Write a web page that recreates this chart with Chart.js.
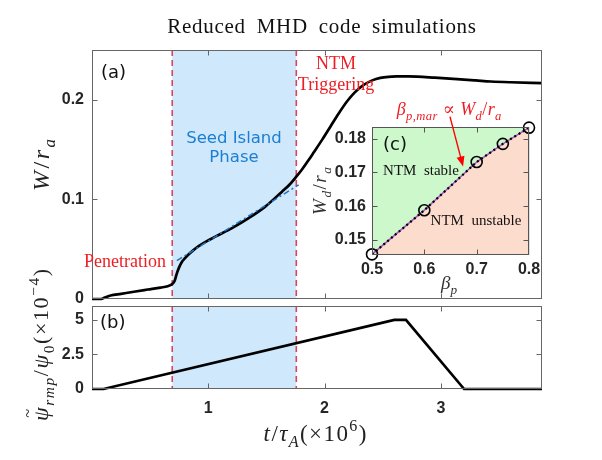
<!DOCTYPE html>
<html><head><meta charset="utf-8">
<script src="https://cdn.jsdelivr.net/npm/chart.js@4.4.1/dist/chart.umd.min.js"></script>
<style>
html,body{margin:0;padding:0;background:#fff;}
#wrap{position:relative;width:602px;height:460px;overflow:hidden;}
#wrap canvas{position:absolute;left:0;top:0;}
</style></head><body>
<div id="wrap">
<canvas id="cA" width="602" height="460"></canvas>
<canvas id="cB" width="602" height="460"></canvas>
<canvas id="cC" width="602" height="460"></canvas>
</div>
<script>
// ---------- data ----------
const timeW  = [0, 0.08, 0.11, 0.16, 0.25, 0.36, 0.48, 0.59, 0.65, 0.69, 0.71, 0.73, 0.75, 0.774, 0.80, 0.83, 0.87, 0.917, 0.98, 1.06, 1.204, 1.347, 1.49, 1.634, 1.70, 1.757, 1.806, 1.86, 1.906, 1.98, 2.05, 2.12, 2.194, 2.26, 2.337, 2.41, 2.48, 2.55, 2.624, 2.72, 2.8, 2.95, 3.14, 3.3, 3.43, 3.6, 3.87];
const islandW = [0, 0, 0.0015, 0.0035, 0.0052, 0.0073, 0.0095, 0.0115, 0.0128, 0.0150, 0.018, 0.0258, 0.032, 0.0375, 0.0410, 0.0447, 0.0488, 0.0530, 0.0576, 0.0626, 0.0712, 0.0812, 0.0928, 0.1078, 0.1150, 0.1228, 0.1300, 0.1390, 0.1470, 0.1600, 0.1730, 0.1860, 0.1985, 0.2075, 0.2150, 0.2195, 0.2220, 0.2231, 0.2235, 0.2236, 0.2233, 0.2222, 0.2208, 0.2195, 0.2184, 0.2176, 0.2168];
const fitTime = [0.73, 1.777];
const fitW    = [0.0385, 0.1146];
const timeRmp = [0, 0.1, 2.6, 2.7, 3.2, 3.87];
const psiRmp  = [0, 0, 5, 5, 0, 0];
const seedPhase = [0.69, 1.757];
const betaP  = [0.5, 0.6, 0.7, 0.75, 0.8];
const wdCrit = [0.1457, 0.1588, 0.1731, 0.1785, 0.1833];
const tTicks = [1, 2, 3];           const tTickLabels = ['1', '2', '3'];
const wTicks = [0, 0.1, 0.2];       const wTickLabels = ['0', '0.1', '0.2'];
const psiTicks = [0, 2.5, 5];       const psiTickLabels = ['0', '2.5', '5'];
const betaTicks = [0.5, 0.6, 0.7, 0.8]; const betaTickLabels = ['0.5', '0.6', '0.7', '0.8'];
const wdTicks = [0.15, 0.16, 0.17, 0.18]; const wdTickLabels = ['0.15', '0.16', '0.17', '0.18'];

// ---------- helpers ----------
const pts = (xs, ys) => xs.map((x, i) => ({x: x, y: ys[i]}));
const SERIF = '"Liberation Serif", "DejaVu Serif", serif';
const SANS = '"DejaVu Sans", "Liberation Sans", sans-serif';
const tickFont = {family: '"Liberation Sans", Arial, sans-serif', weight: 'bold', size: 16};
const TICKCOL = '#262626';
const RED = '#ee1d23';

// parts: {t, it, sub, sup, acc}; sp = extra spacing between characters
function drawMath(ctx, parts, x, y, size, color, align, rot, sp) {
  sp = sp || 0;
  ctx.save();
  ctx.translate(x, y);
  if (rot) ctx.rotate(rot);
  const fontFor = p => (p.it ? 'italic ' : '') + ((p.sub || p.sup) ? size * 0.7 : size).toFixed(1) + 'px ' + SERIF;
  const glyphs = [];
  let total = 0;
  parts.forEach(p => {
    ctx.font = fontFor(p);
    Array.from(p.t).forEach((ch, k) => {
      const w = ctx.measureText(ch).width;
      glyphs.push({ch: ch, p: p, w: w, first: k === 0});
      total += w + sp;
    });
  });
  total -= sp;
  let cx = align === 'center' ? -total / 2 : (align === 'right' ? -total : 0);
  ctx.fillStyle = color; ctx.textBaseline = 'alphabetic'; ctx.textAlign = 'left';
  glyphs.forEach(g => {
    const p = g.p;
    ctx.font = fontFor(p);
    const dy = p.sub ? size * 0.25 : (p.sup ? -size * 0.42 : 0);
    ctx.fillText(g.ch, cx, dy);
    if (p.acc && g.first) {
      ctx.save();
      ctx.font = (size * 0.75).toFixed(1) + 'px ' + SERIF;
      ctx.textAlign = 'center';
      ctx.fillText(p.acc, cx + g.w / 2 + 1, -size * 0.68);
      ctx.restore();
    }
    cx += g.w + sp;
  });
  ctx.restore();
}
function text(ctx, s, x, y, font, color, align) {
  ctx.save(); ctx.font = font; ctx.fillStyle = color; ctx.textAlign = align || 'left'; ctx.textBaseline = 'middle';
  ctx.fillText(s, x, y); ctx.restore();
}
function makeFrame(xt, yt, color) {
  return {
    id: 'frame',
    afterDraw(chart) {
      const {ctx, chartArea: a, scales} = chart;
      ctx.save();
      ctx.strokeStyle = color; ctx.lineWidth = 1;
      const L = Math.round(a.left) + 0.5, R = Math.round(a.right) - 0.5, T = Math.round(a.top) + 0.5, B = Math.round(a.bottom) - 0.5;
      ctx.strokeRect(L, T, R - L, B - T);
      ctx.beginPath();
      xt.forEach(v => { const px = Math.round(scales.x.getPixelForValue(v)) + 0.5; if (px <= L + 1 || px >= R - 1) return; ctx.moveTo(px, T); ctx.lineTo(px, T + 5); ctx.moveTo(px, B); ctx.lineTo(px, B - 5); });
      yt.forEach(v => { const py = Math.round(scales.y.getPixelForValue(v)) + 0.5; if (py <= T + 1 || py >= B - 1) return; ctx.moveTo(L, py); ctx.lineTo(L + 5, py); ctx.moveTo(R, py); ctx.lineTo(R - 5, py); });
      ctx.stroke();
      ctx.restore();
    }
  };
}
const seedShade = {
  id: 'seedShade',
  beforeDatasetsDraw(chart) {
    const {ctx, chartArea: a, scales} = chart;
    const x0 = scales.x.getPixelForValue(seedPhase[0]), x1 = scales.x.getPixelForValue(seedPhase[1]);
    ctx.save();
    ctx.fillStyle = '#cfe8fb';
    ctx.fillRect(x0, a.top, x1 - x0, a.bottom - a.top);
    ctx.strokeStyle = '#d8455c'; ctx.lineWidth = 1.6; ctx.setLineDash([6, 4]);
    [x0, x1].forEach(x => { ctx.beginPath(); ctx.moveTo(x, a.top); ctx.lineTo(x, a.bottom); ctx.stroke(); });
    ctx.restore();
  }
};
const tickSetter = vals => (s => { s.ticks = vals.map(v => ({value: v})); });
const labelFrom = (vals, labels) => (v => { const i = vals.findIndex(t => Math.abs(t - v) < 1e-9); return i >= 0 ? labels[i] : ''; });
const common = {
  responsive: false, animation: false, events: [],
  plugins: {legend: {display: false}, tooltip: {enabled: false}}
};

// ---------- panel (a) ----------
const annotA = {
  id: 'annotA',
  afterDraw(chart) {
    const ctx = chart.ctx;
    ctx.save();
    ctx.font = '21px ' + SERIF; ctx.fillStyle = '#111'; ctx.textAlign = 'center'; ctx.textBaseline = 'alphabetic';
    try { ctx.letterSpacing = '0.7px'; ctx.wordSpacing = '5px'; } catch (e) {}
    ctx.fillText('Reduced MHD code simulations', 322, 33);
    ctx.restore();
    text(ctx, '(a)', 101, 73, '18px ' + SANS, '#111', 'left');
    text(ctx, 'Seed Island', 234, 139, '16.5px ' + SANS, '#1a7fd2', 'center');
    text(ctx, 'Phase', 234, 158, '16.5px ' + SANS, '#1a7fd2', 'center');
    text(ctx, 'NTM', 336, 64, '18px ' + SERIF, RED, 'center');
    text(ctx, 'Triggering', 336, 85, '18px ' + SERIF, RED, 'center');
    text(ctx, 'Penetration', 166, 262, '18px ' + SERIF, RED, 'right');
    drawMath(ctx, [{t: 'W', it: 1}, {t: '/'}, {t: 'r', it: 1}, {t: 'a', it: 1, sub: 1}], 49, 165, 24, '#222', 'center', -Math.PI / 2, 2.5);
  }
};
new Chart(document.getElementById('cA'), {
  type: 'line',
  data: {datasets: [
    {data: pts(timeW, islandW), borderColor: '#000', borderWidth: 2.7, pointRadius: 0, cubicInterpolationMode: 'monotone', clip: 4, order: 2},
    {data: pts(fitTime, fitW), borderColor: '#1c74c9', borderWidth: 1.5, borderDash: [6, 3, 2, 3], pointRadius: 0, order: 1}
  ]},
  options: Object.assign({}, common, {
    layout: {padding: {left: 52, top: 50, right: 60, bottom: 161}},
    scales: {
      x: {type: 'linear', min: 0, max: 3.87, display: false, afterBuildTicks: tickSetter(tTicks)},
      y: {type: 'linear', min: 0, max: 0.25, grid: {display: false, drawTicks: false}, border: {display: false},
          afterBuildTicks: tickSetter(wTicks), afterFit: s => { s.width = 40; },
          ticks: {font: tickFont, color: TICKCOL, padding: 8, callback: labelFrom(wTicks, wTickLabels)}}
    }
  }),
  plugins: [seedShade, makeFrame(tTicks, wTicks, '#666'), annotA]
});

// ---------- panel (b) ----------
const annotB = {
  id: 'annotB',
  afterDraw(chart) {
    const ctx = chart.ctx;
    text(ctx, '(b)', 100, 323, '18px ' + SANS, '#111', 'left');
    drawMath(ctx, [{t: 'ψ', it: 1, acc: '~'}, {t: 'rmp', it: 1, sub: 1}, {t: '/'}, {t: 'ψ', it: 1}, {t: '0', sub: 1}, {t: '(×10'}, {t: '−4', sup: 1}, {t: ')'}], 48, 345, 22, '#222', 'center', -Math.PI / 2, 1.6);
    drawMath(ctx, [{t: 't', it: 1}, {t: '/'}, {t: 'τ', it: 1}, {t: 'A', it: 1, sub: 1}, {t: '(×10'}, {t: '6', sup: 1}, {t: ')'}], 315, 441, 23, '#222', 'center', 0, 1.4);
  }
};
new Chart(document.getElementById('cB'), {
  type: 'line',
  data: {datasets: [
    {data: pts(timeRmp, psiRmp), borderColor: '#000', borderWidth: 2.7, pointRadius: 0, tension: 0, clip: 4}
  ]},
  options: Object.assign({}, common, {
    layout: {padding: {left: 52, top: 306, right: 60, bottom: 41}},
    scales: {
      x: {type: 'linear', min: 0, max: 3.87, grid: {display: false, drawTicks: false}, border: {display: false},
          afterBuildTicks: tickSetter(tTicks), afterFit: s => { s.height = 30; },
          ticks: {font: tickFont, color: TICKCOL, padding: 10, autoSkip: false, maxRotation: 0, callback: labelFrom(tTicks, tTickLabels)}},
      y: {type: 'linear', min: 0, max: 6, grid: {display: false, drawTicks: false}, border: {display: false},
          afterBuildTicks: tickSetter(psiTicks), afterFit: s => { s.width = 40; },
          ticks: {font: tickFont, color: TICKCOL, padding: 8, callback: labelFrom(psiTicks, psiTickLabels)}}
    }
  }),
  plugins: [seedShade, makeFrame(tTicks, psiTicks, '#666'), annotB]
});

// ---------- inset (c) ----------
const annotC = {
  id: 'annotC',
  afterDraw(chart) {
    const ctx = chart.ctx, sx = chart.scales.x, sy = chart.scales.y;
    text(ctx, '(c)', 383, 145, '18px ' + SANS, '#111', 'left');
    text(ctx, 'NTM  stable', 421, 171, '15px ' + SERIF, '#111', 'center');
    text(ctx, 'NTM  unstable', 476, 221, '15px ' + SERIF, '#111', 'center');
    drawMath(ctx, [{t: 'W', it: 1}, {t: 'd', it: 1, sub: 1}, {t: '/'}, {t: 'r', it: 1}, {t: 'a', it: 1, sub: 1}], 326, 191, 19, '#333', 'center', -Math.PI / 2, 1.5);
    drawMath(ctx, [{t: 'β', it: 1}, {t: 'p', it: 1, sub: 1}], 449, 289, 19, '#333', 'center', 0);
    drawMath(ctx, [{t: 'β', it: 1}, {t: 'p,mar', it: 1, sub: 1}, {t: ' ∝ '}, {t: 'W', it: 1}, {t: 'd', it: 1, sub: 1}, {t: '/'}, {t: 'r', it: 1}, {t: 'a', it: 1, sub: 1}], 449, 115, 18, RED, 'center', 0, 0.4);
    const x0 = sx.getPixelForValue(0.649), y0 = sy.getPixelForValue(0.1866);
    const x1 = sx.getPixelForValue(0.674), y1 = sy.getPixelForValue(0.1718);
    const ang = Math.atan2(y1 - y0, x1 - x0);
    ctx.save();
    ctx.strokeStyle = '#f00'; ctx.fillStyle = '#f00'; ctx.lineWidth = 1.4;
    ctx.beginPath(); ctx.moveTo(x0, y0); ctx.lineTo(x1 - 8 * Math.cos(ang), y1 - 8 * Math.sin(ang)); ctx.stroke();
    ctx.beginPath(); ctx.moveTo(x1, y1);
    ctx.lineTo(x1 - 10 * Math.cos(ang) + 4 * Math.sin(ang), y1 - 10 * Math.sin(ang) - 4 * Math.cos(ang));
    ctx.lineTo(x1 - 10 * Math.cos(ang) - 4 * Math.sin(ang), y1 - 10 * Math.sin(ang) + 4 * Math.cos(ang));
    ctx.closePath(); ctx.fill();
    ctx.restore();
  }
};
new Chart(document.getElementById('cC'), {
  type: 'line',
  data: {datasets: [
    {data: pts(betaP, wdCrit), borderWidth: 0, pointRadius: 0, fill: 'end', backgroundColor: '#ccf8cc', order: 5},
    {data: pts(betaP, wdCrit), borderWidth: 0, pointRadius: 0, fill: 'start', backgroundColor: '#fcdccd', order: 4},
    {data: pts(betaP, wdCrit), borderColor: '#a855c8', borderWidth: 1.6, pointRadius: 0, fill: false, order: 3},
    {data: pts(betaP, wdCrit), borderColor: '#000', borderWidth: 2.2, borderDash: [2, 3], pointRadius: 0, fill: false, order: 2},
    {data: pts(betaP, wdCrit), showLine: false, pointRadius: 5.5, pointBorderWidth: 1.6, pointBorderColor: '#000', pointBackgroundColor: 'rgba(0,0,0,0)', clip: false, fill: false, order: 1}
  ]},
  options: Object.assign({}, common, {
    layout: {padding: {left: 327, top: 127, right: 73, bottom: 180}},
    scales: {
      x: {type: 'linear', min: 0.5, max: 0.8, z: 1, grid: {color: 'rgba(0,0,0,0.12)', drawTicks: false}, border: {display: false},
          afterBuildTicks: tickSetter(betaTicks), afterFit: s => { s.height = 25; },
          ticks: {font: tickFont, color: TICKCOL, padding: 5, autoSkip: false, maxRotation: 0, callback: labelFrom(betaTicks, betaTickLabels)}},
      y: {type: 'linear', min: 0.1455, max: 0.1835, z: 1, grid: {color: 'rgba(0,0,0,0.12)', drawTicks: false}, border: {display: false},
          afterBuildTicks: tickSetter(wdTicks), afterFit: s => { s.width = 45; },
          ticks: {font: tickFont, color: TICKCOL, padding: 6, callback: labelFrom(wdTicks, wdTickLabels)}}
    }
  }),
  plugins: [makeFrame(betaTicks, wdTicks, '#555'), annotC]
});
</script>
</body></html>
